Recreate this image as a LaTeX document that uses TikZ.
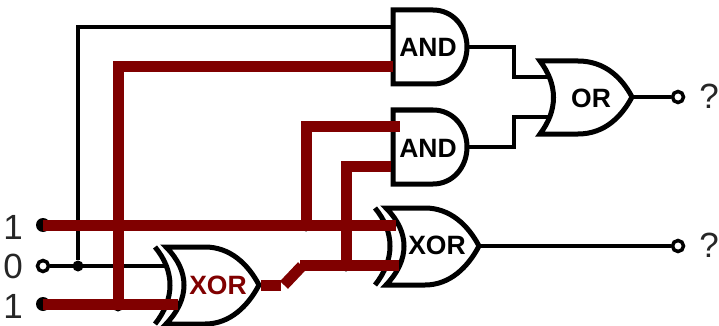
\documentclass[tikz,border=0pt]{standalone}
\usepackage{fontspec}
\setmainfont{Liberation Sans}
\definecolor{wirered}{HTML}{800000}
\newcommand{\xorshape}{
  \draw[gate] (386,208) -- (425,208) .. controls (450,208) and (468,225) .. (479,246)
     .. controls (468,267) and (450,285) .. (425,285) -- (386,285)
     .. controls (410,260) and (410,232) .. cycle;
  \draw[gatearc] (375,208) .. controls (395,232) and (395,260) .. (375,285);
}
\tikzset{
  x=1pt,y=-1pt,
  gate/.style={draw=black,line width=5pt,fill=white,miter limit=20},
  gatearc/.style={draw=black,line width=5pt},
  thinwire/.style={draw=black,line width=3.5pt},
  hotwire/.style={draw=wirered,line width=11pt,line cap=butt},
  joint/.style={circle,fill=black,inner sep=0pt,minimum size=11pt},
  hotpin/.style={circle,fill=black,inner sep=0pt,minimum size=14pt},
  pin/.style={circle,draw=black,line width=3.5pt,fill=white,inner sep=0pt,minimum size=11pt},
  gatelabel/.style={font=\fontsize{26.5}{26.5}\selectfont\bfseries,inner sep=0pt},
  valuelabel/.style={font=\fontsize{35}{35}\selectfont,inner sep=0pt,text=black!85},
}
\begin{document}
\begin{tikzpicture}
\useasboundingbox (0,0) rectangle (719,326);
% terminals
\node[hotpin] (ia) at (43,225) {};
\node[pin] (ib) at (43,266) {};
\node[hotpin] (ic) at (43,304) {};
\node[pin] (oa) at (678,97) {};
\node[pin] (ob) at (678,246) {};
\node[joint] (j1) at (78,266) {};
\node[joint] (j2) at (118,306) {};
\node[joint] (j3) at (306,226) {};
\node[joint] (j4) at (346,266) {};
% pin coordinates
\coordinate (a1t) at (393,27);
\coordinate (a1b) at (393,67);
\coordinate (a2t) at (400,126);
\coordinate (a2b) at (391,166);
\coordinate (a1o) at (467,47);
\coordinate (a2o) at (467,147);
\coordinate (ort) at (553,77);
\coordinate (orb) at (553,117);
\coordinate (oro) at (632,97);
\coordinate (x2o) at (479,246);
\coordinate (x1b) at (168,266);
\coordinate (x1c) at (178,304);
\coordinate (x2a) at (396,225);
\coordinate (x2b) at (399,265);
\coordinate (x1o) at (261,285);
% black wires
\draw[thinwire] (ib) -- (x1b);
\draw[thinwire,line join=miter] (j1) |- (a1t);
\draw[thinwire] (a1o) -| (514,77) -- (ort);
\draw[thinwire] (a2o) -| (514,117) -- (orb);
\draw[thinwire] (oro) -- (oa);
\draw[thinwire] (x2o) -- (ob);
% gates
\draw[gate] (393,10) -- (433,10) .. controls (453,10) and (467,27) .. (467,47)
   .. controls (467,67) and (453,84) .. (433,84) -- (393,84) -- cycle;
\draw[gate] (393,110) -- (433,110) .. controls (453,110) and (467,127) .. (467,147)
   .. controls (467,167) and (453,184) .. (433,184) -- (393,184) -- cycle;
\draw[gate] (540,61) -- (578,61) .. controls (605,61) and (622,78) .. (632,97)
   .. controls (622,116) and (605,134) .. (578,134) -- (540,134)
   .. controls (558,110) and (558,85) .. cycle;
\xorshape
\begin{scope}[shift={(-220,39)}]
\xorshape
\end{scope}
% hot wires
\draw[hotwire] (ia.center) -- (x2a);
\draw[hotwire] (ic.center) -- (x1c);
\draw[hotwire,line join=miter] (j2.center) |- (a1b);
\draw[hotwire,line join=miter] (j3.center) |- (a2t);
\draw[hotwire,line join=miter] (j4.center) |- (a2b);
\draw[hotwire] (x1o) -- (281,285);
\draw[hotwire] (284,285) -- (302,266);
\draw[hotwire] (300,265) -- (x2b);
% labels
\node[gatelabel] (l1) at (428,47) {AND};
\node[gatelabel] (l2) at (428,148) {AND};
\node[gatelabel] (l3) at (591,98) {OR};
\node[gatelabel] (l4) at (437,245) {XOR};
\node[gatelabel,text=wirered] (l5) at (218,285) {XOR};
\node[valuelabel] (v1) at (13,227) {1};
\node[valuelabel] (v2) at (13,266) {0};
\node[valuelabel] (v3) at (13,306) {1};
\node[valuelabel] (q1) at (709,96) {?};
\node[valuelabel] (q2) at (709,245) {?};
\end{tikzpicture}
\end{document}
